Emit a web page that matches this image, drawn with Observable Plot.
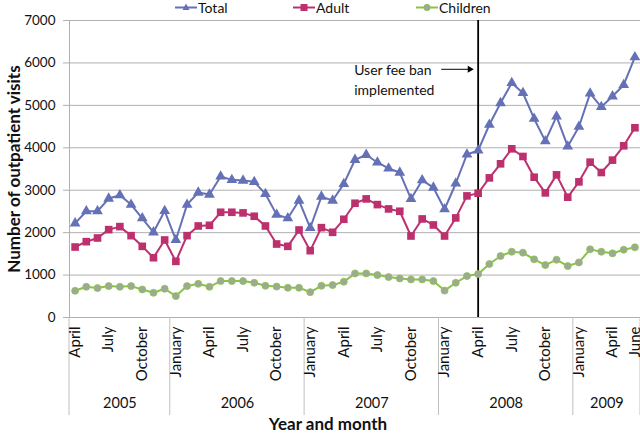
<!DOCTYPE html>
<html>
<head>
<meta charset="utf-8">
<script src="https://cdn.jsdelivr.net/npm/d3@7"></script>
<script src="https://cdn.jsdelivr.net/npm/@observablehq/plot@0.6"></script>
<style>
  body { margin: 0; background: #fff; }
  #wrap { position: relative; width: 640px; height: 434px; font-family: Lato, "Open Sans", sans-serif; }
  #legend { position: absolute; top: -1px; left: 0; width: 640px; height: 16px; font-size: 14px; color: #111; }
  #legend .item { position: absolute; top: 0; display: flex; align-items: center; height: 16px; }
  #legend svg { margin-right: 1px; }
  g[aria-label="y-axis label"] text { font-weight: bold; font-size: 17px; fill: #111; }
</style>
</head>
<body>
<div id="wrap">
  <div id="chart"></div>
  <div id="legend"></div>
</div>
<script>
// ---- data ----
const months = [
  "2005-04","2005-05","2005-06","2005-07","2005-08","2005-09","2005-10","2005-11","2005-12",
  "2006-01","2006-02","2006-03","2006-04","2006-05","2006-06","2006-07","2006-08","2006-09","2006-10","2006-11","2006-12",
  "2007-01","2007-02","2007-03","2007-04","2007-05","2007-06","2007-07","2007-08","2007-09","2007-10","2007-11","2007-12",
  "2008-01","2008-02","2008-03","2008-04","2008-05","2008-06","2008-07","2008-08","2008-09","2008-10","2008-11","2008-12",
  "2009-01","2009-02","2009-03","2009-04","2009-05","2009-06"
];
const total = [
  2220,2504,2504,2803,2882,2661,2339,2008,2512,
  1827,2661,2945,2898,3323,3244,3228,3197,2913,2425,2339,2756,
  2110,2850,2756,3150,3717,3835,3654,3512,3417,2795,3236,3063,
  2551,3158,3843,3937,4543,5055,5528,5291,4685,4157,4740,4031,
  4496,5283,4961,5213,5480,6134
];
const adult = [
  1661,1787,1874,2071,2142,1929,1677,1409,1827,
  1323,1929,2157,2173,2480,2480,2465,2386,2157,1732,1677,2063,
  1575,2118,2008,2315,2693,2795,2661,2559,2504,1921,2323,2181,
  1921,2347,2866,2929,3291,3622,3976,3795,3307,2937,3362,2835,
  3197,3661,3417,3709,4047,4472
];
const children = [
  630,724,693,740,724,740,661,583,677,
  504,740,795,724,858,858,858,819,748,728,701,701,
  598,748,764,843,1039,1039,1000,953,921,898,898,858,
  634,819,976,1024,1260,1449,1551,1528,1370,1236,1362,1213,
  1299,1606,1551,1512,1598,1654
];
const tickMonths = ["2005-04","2005-07","2005-10","2006-01","2006-04","2006-07","2006-10",
  "2007-01","2007-04","2007-07","2007-10","2008-01","2008-04","2008-07","2008-10",
  "2009-01","2009-04","2009-06"];
const tickNames = ["April","July","October","January","April","July","October",
  "January","April","July","October","January","April","July","October",
  "January","April","June"];
const years = ["2005","2006","2007","2008","2009"];
const yTicks = [0,1000,2000,3000,4000,5000,6000,7000];
const banMonth = "2008-04";
const annotationText = "User fee ban\nimplemented";

const seriesNames = ["Total","Adult","Children"];
const seriesValues = [total, adult, children];
const colors = {Total: "#6571b6", Adult: "#bd306e", Children: "#88c443"};

// ---- derived tables ----
const idx = m => months.indexOf(m);
const rows = [];
seriesNames.forEach((s, k) => seriesValues[k].forEach((v, i) => rows.push({series: s, i, value: v})));
const ticks = tickMonths.map((m, k) => ({i: idx(m), label: tickNames[k]}));
const yearInfo = years.map(y => {
  const is = months.map((m, i) => m.startsWith(y) ? i : -1).filter(i => i >= 0);
  return {year: y, mid: (is[0] + is[is.length - 1]) / 2, start: is[0] - 0.5};
});
const dividers = yearInfo.map(d => d.start).concat([months.length - 0.5]);
const ban = idx(banMonth);

const chart = Plot.plot({
  width: 640, height: 434,
  marginLeft: 69, marginRight: 0, marginTop: 20, marginBottom: 117,
  style: {fontFamily: "Lato, 'Open Sans', sans-serif", fontSize: "13.5px", color: "#111", overflow: "visible"},
  x: {domain: [-0.5, months.length - 0.5], axis: null},
  y: {domain: [0, 7000]},
  marks: [
    Plot.ruleY(yTicks, {stroke: "#b0b0b0", strokeWidth: 1}),
    Plot.axisY({ticks: yTicks, tickFormat: d3.format("d"), tickSize: 6, tickPadding: 8, stroke: "#b0b0b0",
      label: "Number of outpatient visits", labelAnchor: "center", labelArrow: "none", labelOffset: 62}),
    Plot.ruleX([-0.5], {stroke: "#b0b0b0"}),
    // year dividers below the axis
    Plot.ruleX(dividers, {dx: (d) => 0, stroke: "#c0c0c0", insetTop: 297, insetBottom: -98}),
    // month labels
    Plot.text(ticks, {x: "i", text: "label", frameAnchor: "bottom", lineAnchor: "middle", rotate: -90, textAnchor: "end",
      dy: 9, fontSize: 15, fill: "#111"}),
    // year labels
    Plot.text(yearInfo, {x: "mid", text: "year", frameAnchor: "bottom", lineAnchor: "middle", dy: 86, fontSize: 14.5, fill: "#111"}),
    // x axis title
    Plot.text(["Year and month"], {frameAnchor: "bottom", lineAnchor: "middle", dy: 107, dx: -27, fontSize: 17, fontWeight: "bold", fill: "#111"}),
    // ban line and annotation
    Plot.ruleX([ban], {stroke: "#000", strokeWidth: 1.8}),
    Plot.text([annotationText], {x: ban, y: 5630, dx: -124, textAnchor: "start", fontSize: 14, lineHeight: 1.45, fill: "#111"}),
    Plot.link([0], {x1: ban - 3.3, x2: ban - 0.75, y1: 5850, y2: 5850, stroke: "#000", strokeWidth: 1}),
    Plot.dot([0], {x: ban - 0.75, y: 5850, symbol: "triangle", rotate: 90, r: 2.6, fill: "#000"}),
    // series
    Plot.line(rows, {x: "i", y: "value", z: "series", stroke: d => colors[d.series], strokeWidth: 2}),
    Plot.dot(rows.filter(d => d.series === "Total"), {x: "i", y: "value", symbol: "triangle", r: 4, fill: colors.Total}),
    Plot.dot(rows.filter(d => d.series === "Adult"), {x: "i", y: "value", symbol: "square", r: 4.3, fill: colors.Adult}),
    Plot.dot(rows.filter(d => d.series === "Children"), {x: "i", y: "value", symbol: "circle", r: 3.5, fill: "#9da993", stroke: "#8cc450", strokeWidth: 0.8})
  ]
});
document.getElementById("chart").appendChild(chart);

// ---- legend ----
const legendPos = {Total: 175, Adult: 293, Children: 416};
const legend = document.getElementById("legend");
seriesNames.forEach(s => {
  const c = colors[s];
  let marker;
  if (s === "Total") marker = `<path d="M11,3.5L14.5,10H7.5Z" fill="${c}"/>`;
  else if (s === "Adult") marker = `<rect x="7.5" y="4" width="7" height="7" fill="${c}"/>`;
  else marker = `<circle cx="11" cy="7.5" r="3.2" fill="#9da993" stroke="#8cc450" stroke-width="0.8"/>`;
  const item = document.createElement("div");
  item.className = "item";
  item.style.left = legendPos[s] + "px";
  item.innerHTML = `<svg width="22" height="15"><line x1="0" x2="22" y1="7.5" y2="7.5" stroke="${c}" stroke-width="2"/>${marker}</svg><span>${s}</span>`;
  legend.appendChild(item);
});
</script>
</body>
</html>
